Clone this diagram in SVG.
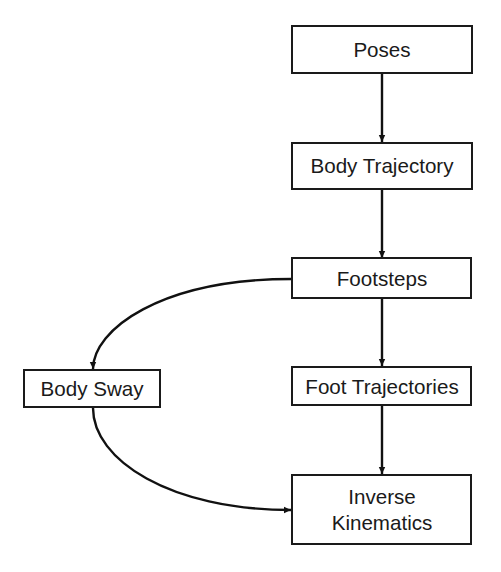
<svg xmlns="http://www.w3.org/2000/svg" width="501" height="572" viewBox="0 0 501 572">
<style>
.box{fill:#fff;stroke:#1a1a1a;stroke-width:2}
.lbl{font-family:"Liberation Sans",Arial,sans-serif;font-size:20.6px;fill:#1a1a1a;text-anchor:middle}
.con{fill:none;stroke:#111;stroke-width:2.4}
</style>
<defs>
<marker id="ah" markerWidth="8" markerHeight="8" refX="7" refY="4" orient="auto" markerUnits="userSpaceOnUse">
<path d="M0,0.8 L7,4 L0,7.2 Z" fill="#111"/>
</marker>
</defs>
<rect width="501" height="572" fill="#fff"/>
<g id="connectors">
<path class="con" d="M382,73 L382,142" marker-end="url(#ah)"/>
<path class="con" d="M382,189 L382,258" marker-end="url(#ah)"/>
<path class="con" d="M382,298 L382,366" marker-end="url(#ah)"/>
<path class="con" d="M382,405 L382,474" marker-end="url(#ah)"/>
<path class="con" d="M292,279 C160,279 93,330 93,369" marker-end="url(#ah)"/>
<path class="con" d="M93,408 C93,460 170,510 291,510" marker-end="url(#ah)"/>
</g>
<g id="poses"><rect class="box" x="292" y="26" width="180" height="47"/><text class="lbl" x="382" y="57">Poses</text></g>
<g id="body-trajectory"><rect class="box" x="292" y="143" width="180" height="46"/><text class="lbl" x="382" y="173">Body Trajectory</text></g>
<g id="footsteps"><rect class="box" x="292" y="258" width="179" height="40"/><text class="lbl" x="382" y="286">Footsteps</text></g>
<g id="foot-trajectories"><rect class="box" x="292" y="367" width="179" height="38"/><text class="lbl" x="382" y="394">Foot Trajectories</text></g>
<g id="inverse-kinematics"><rect class="box" x="292" y="475" width="179" height="69"/><text class="lbl" x="382" y="504">Inverse</text><text class="lbl" x="382" y="530">Kinematics</text></g>
<g id="body-sway"><rect class="box" x="24" y="370" width="136" height="37"/><text class="lbl" x="92" y="396">Body Sway</text></g>
</svg>
